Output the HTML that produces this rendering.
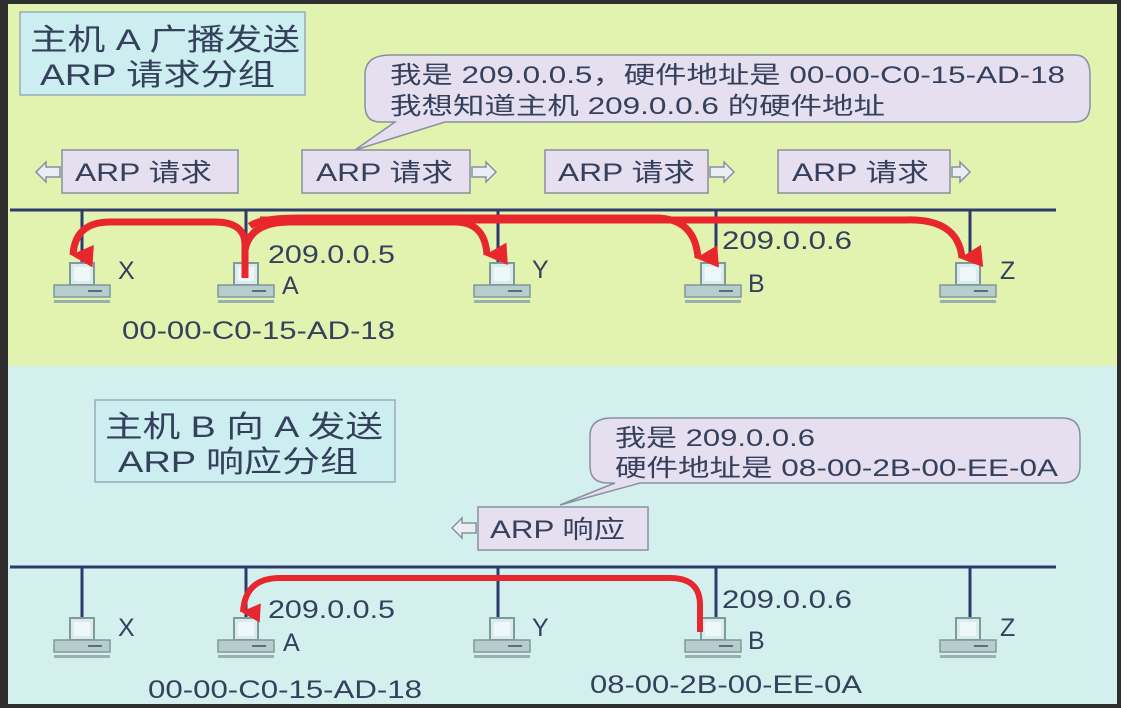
<!DOCTYPE html>
<html><head><meta charset="utf-8"><style>
body{margin:0;width:1121px;height:708px;overflow:hidden;background:#333;}
svg{display:block}
text{font-family:"Liberation Sans","Noto Sans CJK SC",sans-serif;fill:#34405c;}
</style></head><body>
<svg width="1121" height="708" viewBox="0 0 1121 708" xmlns="http://www.w3.org/2000/svg">
<defs>
<g id="pc">
<rect x="-12" y="-22" width="24" height="22" fill="#dcecec" stroke="#7f9a9a" stroke-width="2"/>
<rect x="-8" y="-18" width="16" height="14" fill="#eef8f8"/>
<rect x="-28" y="0" width="56" height="12" fill="#b7cccc" stroke="#7f9a9a" stroke-width="1.5"/>
<line x1="6" y1="6" x2="20" y2="6" stroke="#55707a" stroke-width="2"/>
<rect x="-28" y="15" width="56" height="3" fill="#9ab0b0"/>
</g>
<marker id="ah" viewBox="0 0 10 10" refX="5" refY="9" markerWidth="3.2" markerHeight="5" orient="auto-start-reverse" markerUnits="strokeWidth"><path d="M0,0 L10,0 L5,10 z" fill="#e8262e"/></marker>
</defs>
<rect x="0" y="0" width="1121" height="708" fill="#2e2e2e"/>
<rect x="8" y="4" width="1109" height="362" fill="#e2f3b0"/>
<rect x="8" y="366" width="1109" height="338" fill="#d3f0ee"/>
<!-- Title 1 -->
<rect x="20" y="12" width="285" height="83" fill="#cdeef0" stroke="#9ab" stroke-width="1.5"/>
<text x="30" y="50" font-size="30" textLength="270" lengthAdjust="spacingAndGlyphs">主机 A 广播发送</text>
<text x="40" y="85" font-size="30" textLength="235" lengthAdjust="spacingAndGlyphs">ARP 请求分组</text>
<!-- callout 1 -->
<path d="M390,55 H1075 Q1090,55 1090,75 V105 Q1090,122 1075,122 H445 L355,150 L395,122 H380 Q365,122 365,105 V75 Q365,55 390,55 Z" fill="#e6dff0" stroke="#8890a0" stroke-width="1.5"/>
<text x="390" y="83" font-size="24" textLength="675" lengthAdjust="spacingAndGlyphs">我是 209.0.0.5，硬件地址是 00-00-C0-15-AD-18</text>
<text x="390" y="114" font-size="24" textLength="495" lengthAdjust="spacingAndGlyphs">我想知道主机 209.0.0.6 的硬件地址</text>
<!-- ARP request boxes -->
<g fill="#e6dff0" stroke="#8890a0" stroke-width="1.5">
<rect x="62" y="150" width="176" height="43"/>
<rect x="302" y="150" width="168" height="43"/>
<rect x="545" y="150" width="163" height="43"/>
<rect x="778" y="150" width="172" height="43"/>
</g>
<g fill="#e8eef4" stroke="#8890a0" stroke-width="1.5">
<path d="M60,167 H46 V162 L36,172 L46,182 V177 H60 Z"/>
<path d="M472,167 H486 V162 L496,172 L486,182 V177 H472 Z"/>
<path d="M710,167 H724 V162 L734,172 L724,182 V177 H710 Z"/>
<path d="M952,167 H960 V162 L970,172 L960,182 V177 H952 Z"/>
</g>
<g font-size="25">
<text x="75" y="181" textLength="137" lengthAdjust="spacingAndGlyphs">ARP 请求</text>
<text x="316" y="181" textLength="137" lengthAdjust="spacingAndGlyphs">ARP 请求</text>
<text x="558" y="181" textLength="137" lengthAdjust="spacingAndGlyphs">ARP 请求</text>
<text x="792" y="181" textLength="137" lengthAdjust="spacingAndGlyphs">ARP 请求</text>
</g>
<!-- bus 1 -->
<g stroke="#2d3a6e" stroke-width="3">
<line x1="10" y1="210" x2="1056" y2="210"/>
<line x1="82" y1="210" x2="82" y2="265"/>
<line x1="246" y1="210" x2="246" y2="265"/>
<line x1="498" y1="210" x2="498" y2="262"/>
<line x1="716" y1="210" x2="716" y2="265"/>
<line x1="970" y1="210" x2="970" y2="262"/>
</g>
<use href="#pc" x="82" y="285"/>
<use href="#pc" x="246" y="285"/>
<use href="#pc" x="502" y="285"/>
<use href="#pc" x="713" y="285"/>
<use href="#pc" x="968" y="285"/>
<g font-size="25">
<text x="118" y="279">X</text>
<text x="268" y="263" textLength="127" lengthAdjust="spacingAndGlyphs">209.0.0.5</text>
<text x="282" y="294">A</text>
<text x="532" y="278">Y</text>
<text x="722" y="249" textLength="130" lengthAdjust="spacingAndGlyphs">209.0.0.6</text>
<text x="748" y="292">B</text>
<text x="1000" y="279">Z</text>
<text x="122" y="339" textLength="273" lengthAdjust="spacingAndGlyphs">00-00-C0-15-AD-18</text>
</g>
<!-- red arrows 1 -->
<g fill="none" stroke="#e8262e" stroke-width="7">
<path d="M245,278 V245 Q245,222 215,222 H110 Q75,222 73,255" marker-end="url(#ah)"/>
<path d="M245,250 Q250,222 290,222 H455 Q485,222 487,255" marker-end="url(#ah)"/>
<path d="M250,226 Q260,218 300,218 H655 Q695,218 698,258" marker-end="url(#ah)"/>
<path d="M260,220 H905 Q958,218 962,258" marker-end="url(#ah)"/>
</g>
<!-- Title 2 -->
<rect x="95" y="400" width="300" height="82" fill="#cdeef0" stroke="#9ab" stroke-width="1.5"/>
<text x="105" y="437" font-size="30" textLength="278" lengthAdjust="spacingAndGlyphs">主机 B 向 A 发送</text>
<text x="118" y="472" font-size="30" textLength="240" lengthAdjust="spacingAndGlyphs">ARP 响应分组</text>
<!-- callout 2 -->
<path d="M612,418 H1062 Q1080,418 1080,436 V466 Q1080,483 1062,483 H640 L560,505 L615,483 H608 Q590,483 590,466 V436 Q590,418 612,418 Z" fill="#e6dff0" stroke="#8890a0" stroke-width="1.5"/>
<text x="615" y="446" font-size="24" textLength="200" lengthAdjust="spacingAndGlyphs">我是 209.0.0.6</text>
<text x="615" y="476" font-size="24" textLength="443" lengthAdjust="spacingAndGlyphs">硬件地址是 08-00-2B-00-EE-0A</text>
<rect x="478" y="507" width="170" height="43" fill="#e6dff0" stroke="#8890a0" stroke-width="1.5"/>
<path d="M476,523 H462 V518 L452,528 L462,538 V533 H476 Z" fill="#e8eef4" stroke="#8890a0" stroke-width="1.5"/>
<text x="490" y="538" font-size="25" textLength="135" lengthAdjust="spacingAndGlyphs">ARP 响应</text>
<!-- bus 2 -->
<g stroke="#2d3a6e" stroke-width="3">
<line x1="10" y1="567" x2="1056" y2="567"/>
<line x1="82" y1="567" x2="82" y2="620"/>
<line x1="246" y1="567" x2="246" y2="620"/>
<line x1="498" y1="567" x2="498" y2="620"/>
<line x1="716" y1="567" x2="716" y2="620"/>
<line x1="970" y1="567" x2="970" y2="620"/>
</g>
<use href="#pc" x="82" y="640"/>
<use href="#pc" x="246" y="640"/>
<use href="#pc" x="502" y="640"/>
<use href="#pc" x="713" y="640"/>
<use href="#pc" x="968" y="640"/>
<g font-size="25">
<text x="118" y="636">X</text>
<text x="268" y="618" textLength="127" lengthAdjust="spacingAndGlyphs">209.0.0.5</text>
<text x="283" y="651">A</text>
<text x="532" y="636">Y</text>
<text x="722" y="608" textLength="130" lengthAdjust="spacingAndGlyphs">209.0.0.6</text>
<text x="748" y="649">B</text>
<text x="1000" y="636">Z</text>
<text x="148" y="698" textLength="274" lengthAdjust="spacingAndGlyphs">00-00-C0-15-AD-18</text>
<text x="590" y="693" textLength="272" lengthAdjust="spacingAndGlyphs">08-00-2B-00-EE-0A</text>
</g>
<path d="M700,632 V605 Q700,578 670,578 H280 Q245,578 243,612" fill="none" stroke="#e8262e" stroke-width="6" marker-end="url(#ah)"/>
</svg>
</body></html>
